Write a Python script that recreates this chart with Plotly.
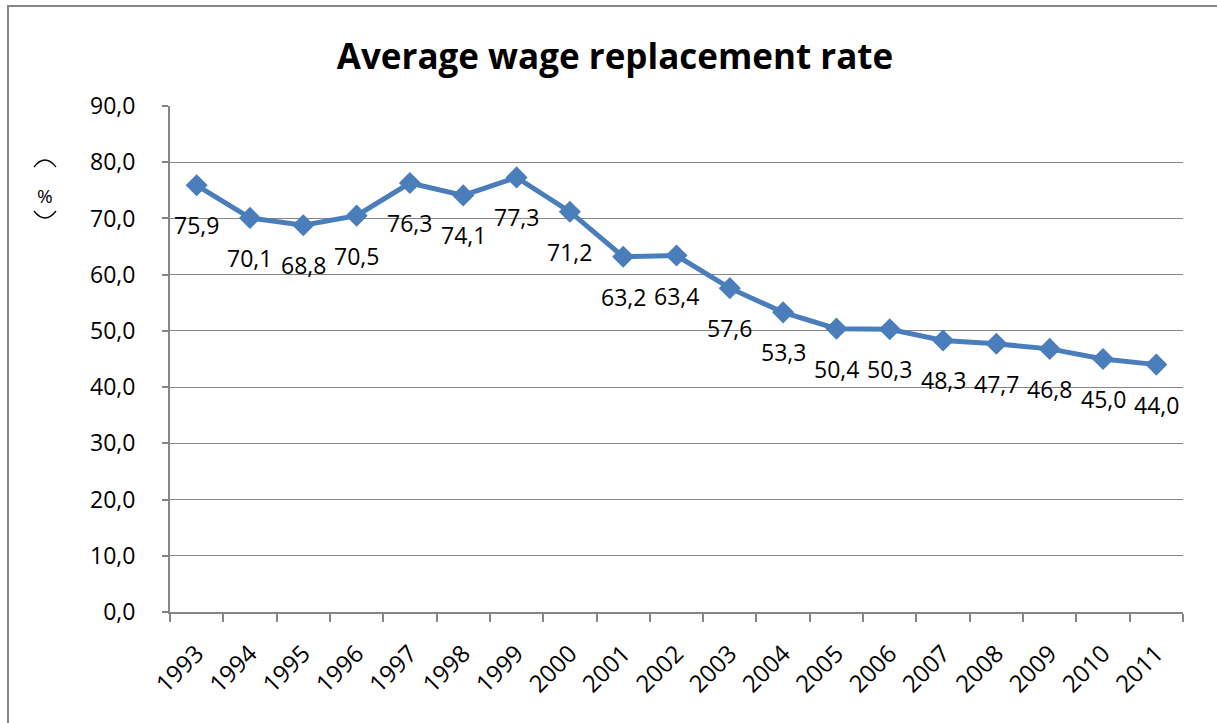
import plotly.graph_objects as go

years = ["1993", "1994", "1995", "1996", "1997", "1998", "1999", "2000", "2001", "2002",
         "2003", "2004", "2005", "2006", "2007", "2008", "2009", "2010", "2011"]
rates = [75.9, 70.1, 68.8, 70.5, 76.3, 74.1, 77.3, 71.2, 63.2, 63.4,
         57.6, 53.3, 50.4, 50.3, 48.3, 47.7, 46.8, 45.0, 44.0]
y_ticks = [0, 10, 20, 30, 40, 50, 60, 70, 80, 90]
y_ticktext = ["0,0", "10,0", "20,0", "30,0", "40,0", "50,0", "60,0", "70,0", "80,0", "90,0"]
title_text = "Average wage replacement rate"
y_unit = "%"

W, H = 1217, 723
L, R, T, B = 170, 1183, 106, 612
FONT = "Open Sans"
GRAY = "#868686"
BLUE = "#4A7EBB"


def px(x):
    return (x - L) / (R - L)


def py(y):
    return (B - y) / (B - T)


def arc(x0, x1, yend, yctrl):
    return (f"M {px(x0)},{py(yend)} Q {px((x0 + x1) / 2)},{py(yctrl)} "
            f"{px(x1)},{py(yend)}")


fig = go.Figure()
fig.add_trace(go.Scatter(
    x=years, y=rates, mode="lines+markers",
    line=dict(color=BLUE, width=5),
    marker=dict(symbol="diamond", size=17, color=BLUE),
    hoverinfo="skip", showlegend=False,
))

annotations = []
for i, v in enumerate(rates):
    annotations.append(dict(
        x=i, y=v, xref="x", yref="y", text=f"{v:.1f}".replace(".", ","),
        showarrow=False, yshift=-40, font=dict(family=FONT, size=23, color="black"),
        xanchor="center", yanchor="middle",
    ))

# vertical axis title: "%" between vertical-form brackets
annotations.append(dict(x=px(45), y=py(196), xref="paper", yref="paper", text=y_unit,
                        showarrow=False, font=dict(family=FONT, size=19, color="black"),
                        xanchor="center", yanchor="middle"))

shapes = [
    dict(type="rect", xref="paper", yref="paper",
         x0=px(8), x1=px(1240), y0=py(760), y1=py(6),
         line=dict(color=GRAY, width=2), fillcolor="rgba(0,0,0,0)", layer="below"),
    dict(type="path", xref="paper", yref="paper", path=arc(34, 56, 167, 153),
         line=dict(color="black", width=1.3)),
    dict(type="path", xref="paper", yref="paper", path=arc(34, 56, 211, 225),
         line=dict(color="black", width=1.3)),
]

fig.update_layout(
    width=W, height=H,
    margin=dict(l=L, r=W - R, t=T, b=H - B),
    paper_bgcolor="white", plot_bgcolor="white",
    title=dict(text=f"<b>{title_text}</b>", x=615 / W, xref="container", xanchor="center",
               y=1 - 57 / H, yref="container", yanchor="middle",
               font=dict(family=FONT, size=35, color="black")),
    annotations=annotations,
    shapes=shapes,
    xaxis=dict(type="category", range=[-0.5, len(years) - 0.5],
               showgrid=False, showline=True, linecolor=GRAY, linewidth=2,
               ticks="outside", ticklen=8, tickcolor=GRAY, tickwidth=2, tickson="boundaries",
               tickangle=-45, tickfont=dict(family=FONT, size=24, color="black"),
               ticklabelstandoff=16, fixedrange=True),
    yaxis=dict(range=[0, 90], tickvals=y_ticks, ticktext=y_ticktext,
               showgrid=True, gridcolor=GRAY, gridwidth=1.3,
               showline=True, linecolor=GRAY, linewidth=2,
               ticks="outside", ticklen=6, tickcolor=GRAY, tickwidth=2,
               tickfont=dict(family=FONT, size=23, color="black"),
               ticklabelstandoff=22, zeroline=False, fixedrange=True),
)

fig.write_html("out.html")
